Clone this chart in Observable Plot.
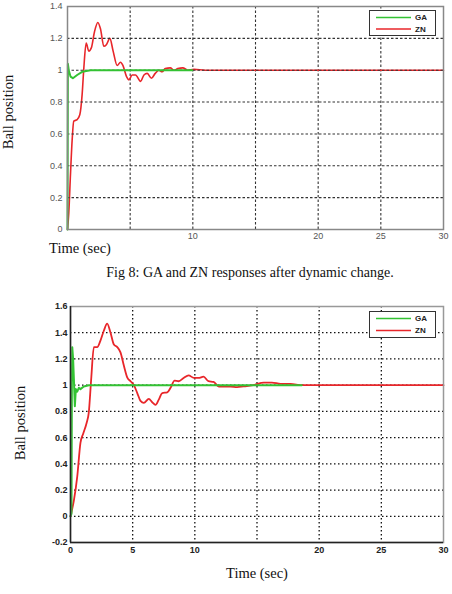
<!DOCTYPE html>
<html>
<head>
<meta charset="utf-8">
<script src="https://cdn.jsdelivr.net/npm/d3@7"></script>
<script src="https://cdn.jsdelivr.net/npm/@observablehq/plot@0.6"></script>
<style>
  html, body { margin: 0; padding: 0; background: #fff; }
  #page { position: relative; width: 452px; height: 594px; overflow: hidden; background: #fff;
          font-family: "Liberation Serif", "Times New Roman", serif; color: #111; }
  .abs { position: absolute; white-space: nowrap; }
  .ylab { transform: translate(-50%, -50%) rotate(-90deg); font-size: 14.5px; }
  .ctr { transform: translate(-50%, -50%); }
  .legend { position: absolute; background: #fff; border: 1.5px solid #333; box-sizing: border-box; }
  .legend svg { display: block; }
</style>
</head>
<body>
<div id="page">
  <div id="p1" class="abs" style="left:0;top:0"></div>
  <div id="p2" class="abs" style="left:0;top:300px"></div>
  <div class="abs ylab" style="left:8px;top:112px">Ball position</div>
  <div class="abs ctr" style="left:80px;top:248px;font-size:14.5px">Time (sec)</div>
  <div class="abs ctr" style="left:250px;top:273px;font-size:14px">Fig 8: GA and ZN responses after dynamic change.</div>
  <div class="abs ylab" style="left:20px;top:423px">Ball position</div>
  <div class="abs ctr" style="left:257px;top:573px;font-size:14.5px">Time (sec)</div>
  <div id="leg1" class="legend" style="left:369px;top:10px;width:67px;height:26px"></div>
  <div id="leg2" class="legend" style="left:369px;top:311px;width:67px;height:27px"></div>
</div>
<script>
// ---- Series names / colours ----
const seriesNames = ["GA", "ZN"];
const seriesColors = ["#33c233", "#e8262a"];

// ---- Fig 8 (top chart) ----
const fig8GATime = [0, 0.03, 0.1, 0.24, 0.43, 0.77, 1.17, 1.84, 9.95];
const fig8GA     = [0, 1.04, 1.0, 0.96, 0.95, 0.97, 0.99, 1.0, 1.0];
const fig8ZNTime = [0, 0.1, 0.24, 0.37, 0.5, 0.77, 0.98, 1.17, 1.3, 1.49, 1.7, 1.9, 2.15, 2.42, 2.63, 2.9, 3.1, 3.38, 3.64, 3.96, 4.23, 4.42, 4.71, 4.9, 5.16, 5.43, 5.83, 6.1, 6.36, 6.7, 7.0, 7.29, 7.55, 7.8, 8.2, 8.5, 8.8, 9.2, 9.6, 10.1, 11, 30];
const fig8ZN     = [0, 0.1, 0.35, 0.56, 0.68, 0.69, 0.72, 0.85, 1.01, 1.17, 1.12, 1.14, 1.24, 1.30, 1.26, 1.15, 1.16, 1.2, 1.12, 1.03, 1.05, 1.03, 0.96, 0.94, 0.97, 0.97, 0.93, 0.97, 0.98, 0.95, 0.98, 1.0, 0.99, 1.01, 1.015, 1.0, 1.01, 1.015, 1.0, 1.005, 1.0, 1.0];
const fig8XDomain = [0, 30];
const fig8YDomain = [0, 1.4];
const fig8XTickLabels = [10, 20, 25, 30];
const fig8YTickLabels = [0, 0.2, 0.4, 0.6, 0.8, 1, 1.2, 1.4];
const fig8XGrid = [5, 10, 15, 20, 25];
const fig8YGrid = [0.2, 0.4, 0.6, 0.8, 1, 1.2];

// ---- Fig 9 (bottom chart) ----
const fig9GATime = [0, 0.08, 0.11, 0.14, 0.21, 0.27, 0.35, 0.43, 0.54, 0.67, 0.8, 1.07, 1.47, 18.6];
const fig9GA     = [0, 0.02, 1.0, 1.29, 1.2, 1.05, 0.84, 0.97, 0.95, 0.98, 0.97, 0.99, 1.0, 1.0];
const fig9ZNTime = [0, 0.27, 0.54, 0.8, 1.02, 1.29, 1.47, 1.66, 1.88, 2.15, 2.41, 2.68, 2.95, 3.22, 3.49, 3.76, 4.02, 4.29, 4.56, 4.83, 5.1, 5.37, 5.63, 5.9, 6.3, 6.57, 6.84, 7.1, 7.38, 7.78, 8.05, 8.37, 8.7, 9.1, 9.5, 9.92, 10.3, 10.7, 11.1, 11.5, 11.93, 12.3, 12.87, 13.4, 13.9, 14.7, 15.55, 16.2, 16.9, 17.7, 18.6, 30];
const fig9ZN     = [0, 0.12, 0.3, 0.56, 0.63, 0.71, 0.79, 1.04, 1.29, 1.29, 1.34, 1.415, 1.47, 1.40, 1.31, 1.29, 1.25, 1.15, 1.06, 1.03, 1.0, 0.94, 0.88, 0.865, 0.895, 0.87, 0.85, 0.89, 0.94, 0.945, 0.98, 1.035, 1.03, 1.055, 1.075, 1.055, 1.055, 1.065, 1.03, 1.025, 0.99, 0.99, 0.99, 0.985, 0.99, 1.0, 1.02, 1.02, 1.01, 1.01, 1.0, 1.0];
const fig9XDomain = [0, 30];
const fig9YDomain = [-0.2, 1.6];
const fig9XTickLabels = [0, 5, 10, 20, 25, 30];
const fig9YTickLabels = [-0.2, 0, 0.2, 0.4, 0.6, 0.8, 1, 1.2, 1.4, 1.6];
const fig9XGrid = [5, 10, 15, 20, 25];
const fig9YGrid = [0, 0.2, 0.4, 0.6, 0.8, 1, 1.2, 1.4];

const zip = (ts, vs) => ts.map((t, i) => ({t, v: vs[i]}));
const fmt = d => String(+(+d).toFixed(1));

// ---- Top chart ----
const p1 = Plot.plot({
  width: 452, height: 242,
  marginLeft: 67, marginRight: 9, marginTop: 6, marginBottom: 13,
  x: {domain: fig8XDomain},
  y: {domain: fig8YDomain},
  style: {fontFamily: "'Liberation Sans', Arial, sans-serif", fontSize: "9px", color: "#555", background: "transparent", overflow: "visible"},
  marks: [
    Plot.gridX(fig8XGrid, {stroke: "#333", strokeOpacity: 1, strokeDasharray: "2.5,2", strokeWidth: 1.1}),
    Plot.line(zip(fig8ZNTime, fig8ZN), {x: "t", y: "v", stroke: seriesColors[1], strokeWidth: 1.6, curve: "monotone-x"}),
    Plot.gridY(fig8YGrid, {stroke: "#333", strokeOpacity: 1, strokeDasharray: "2.5,2", strokeWidth: 1.1}),
    Plot.line(zip(fig8GATime, fig8GA), {x: "t", y: "v", stroke: seriesColors[0], strokeWidth: 2}),
    Plot.frame({stroke: "#888", strokeWidth: 1.5}),
    Plot.axisX(fig8XTickLabels, {tickSize: 0, tickPadding: 3, label: null, tickFormat: fmt}),
    Plot.axisY(fig8YTickLabels, {tickSize: 0, tickPadding: 5, label: null, tickFormat: fmt})
  ]
});
document.getElementById("p1").appendChild(p1);

// ---- Bottom chart ----
const p2 = Plot.plot({
  width: 452, height: 256,
  marginLeft: 70, marginRight: 9, marginTop: 6, marginBottom: 14,
  x: {domain: fig9XDomain},
  y: {domain: fig9YDomain},
  style: {fontFamily: "'Liberation Sans', Arial, sans-serif", fontSize: "9px", fontWeight: "bold", color: "#222", background: "transparent", overflow: "visible"},
  marks: [
    Plot.gridX(fig9XGrid, {stroke: "#111", strokeOpacity: 1, strokeDasharray: "1.5,2.5", strokeWidth: 1.3}),
    Plot.gridY(fig9YGrid, {stroke: "#111", strokeOpacity: 1, strokeDasharray: "1.5,2.5", strokeWidth: 1.3}),
    Plot.line(zip(fig9ZNTime, fig9ZN), {x: "t", y: "v", stroke: seriesColors[1], strokeWidth: 1.8, curve: "monotone-x"}),
    Plot.line(zip(fig9GATime, fig9GA), {x: "t", y: "v", stroke: seriesColors[0], strokeWidth: 2}),
    Plot.frame({stroke: "#999", strokeWidth: 1.5}),
    Plot.axisX(fig9XTickLabels, {tickSize: 0, tickPadding: 4, label: null, tickFormat: fmt}),
    Plot.axisY(fig9YTickLabels, {tickSize: 0, tickPadding: 3, label: null, tickFormat: fmt}),
    Plot.ruleX([0], {stroke: "#222", strokeWidth: 1.5}),
    Plot.ruleY([-0.2], {stroke: "#222", strokeWidth: 1.5})
  ]
});
document.getElementById("p2").appendChild(p2);

// ---- Legends ----
function legend(id, w, h, y1, y2) {
  const svg = d3.select("#" + id).append("svg").attr("width", w).attr("height", h);
  const ys = [y1, y2];
  seriesNames.forEach((name, i) => {
    svg.append("line").attr("x1", 6).attr("x2", 41).attr("y1", ys[i]).attr("y2", ys[i])
      .attr("stroke", seriesColors[i]).attr("stroke-width", 1.6);
    svg.append("text").attr("x", 45).attr("y", ys[i]).attr("dy", "0.35em")
      .attr("font-family", "'Liberation Sans', Arial, sans-serif").attr("font-size", 8)
      .attr("font-weight", "bold").attr("fill", "#222").text(name);
  });
}
legend("leg1", 64, 23, 6.5, 18);
legend("leg2", 64, 24, 6.5, 18.5);
</script>
</body>
</html>
